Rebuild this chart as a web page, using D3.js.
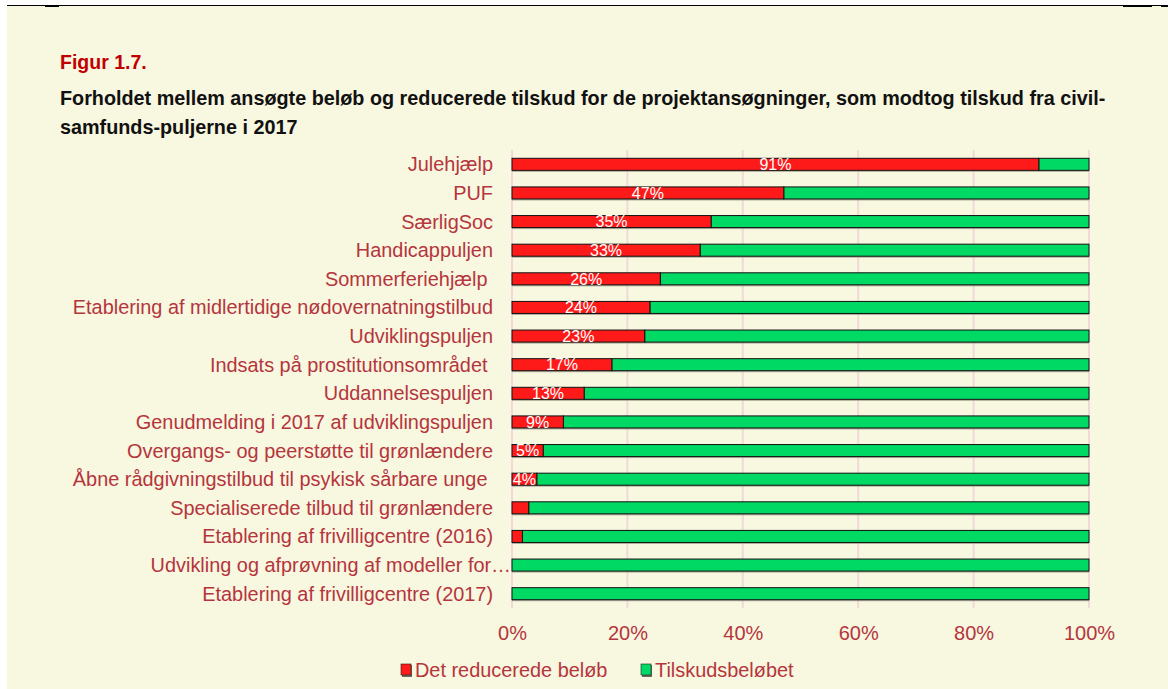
<!DOCTYPE html>
<html><head><meta charset="utf-8">
<script src="https://cdn.jsdelivr.net/npm/d3@7"></script>
<style>
html,body{margin:0;padding:0;background:#fff;}
svg{display:block;font-family:"Liberation Sans",Arial,Helvetica,sans-serif;}
</style></head>
<body>
<svg id="chart" width="1168" height="689"></svg>
<script>
const categories = [
  "Julehjælp","PUF","SærligSoc","Handicappuljen","Sommerferiehjælp ",
  "Etablering af midlertidige nødovernatningstilbud","Udviklingspuljen",
  "Indsats på prostitutionsområdet ","Uddannelsespuljen",
  "Genudmelding i 2017 af udviklingspuljen","Overgangs- og peerstøtte til grønlændere",
  "Åbne rådgivningstilbud til psykisk sårbare unge ","Specialiserede tilbud til grønlændere",
  "Etablering af frivilligcentre (2016)","Udvikling og afprøvning af modeller for…",
  "Etablering af frivilligcentre (2017)"
];
const reduced = [0.913,0.471,0.345,0.326,0.257,0.239,0.230,0.173,0.125,0.089,0.054,0.043,0.029,0.018,0,0];
const reducedLabels = ["91%","47%","35%","33%","26%","24%","23%","17%","13%","9%","5%","4%","","","",""];
const tickValues = [0,0.2,0.4,0.6,0.8,1];
const tickLabels = ["0%","20%","40%","60%","80%","100%"];
const seriesNames = ["Det reducerede beløb","Tilskudsbeløbet"];
const titleLabel = "Figur 1.7.";
const subtitleLines = [
  "Forholdet mellem ansøgte beløb og reducerede tilskud for de projektansøgninger, som modtog tilskud fra civil-",
  "samfunds-puljerne i 2017"
];

const RED = "#ff1a1a", GREEN = "#00d964", TXT = "#b5353d";
const svg = d3.select("#chart");

// background + top rule
svg.append("rect").attr("x",7).attr("y",6).attr("width",1161).attr("height",683).attr("fill","#f8f7e0");
svg.append("line").attr("x1",7).attr("x2",1168).attr("y1",5.5).attr("y2",5.5).attr("stroke","#000").attr("stroke-width",1);
svg.append("rect").attr("x",45).attr("y",5).attr("width",14).attr("height",2).attr("fill","#000");
svg.append("rect").attr("x",1123).attr("y",5).attr("width",29).attr("height",2).attr("fill","#000");
svg.append("rect").attr("x",1161).attr("y",5).attr("width",7).attr("height",2).attr("fill","#000");

// titles
svg.append("text").attr("x",60).attr("y",69).attr("fill","#c00000")
  .attr("font-weight","bold").attr("font-size",19.5).text(titleLabel);
svg.selectAll("text.sub").data(subtitleLines).join("text").attr("class","sub")
  .attr("x",60).attr("y",(d,i)=>105+i*29).attr("fill","#111")
  .attr("font-weight","bold").attr("font-size",19.8).text(d=>d);

const x = d3.scaleLinear().domain([0,1]).range([512,1089]);
const y = d3.scaleBand().domain(categories).range([150,608]).paddingInner(0.58).paddingOuter(0.29);

// gridlines
svg.append("g").selectAll("line").data(tickValues).join("line")
  .attr("x1",d=>x(d)).attr("x2",d=>x(d)).attr("y1",150).attr("y2",608)
  .attr("stroke","#f2d9d9").attr("stroke-width",2);

// x axis labels
const xAxis = d3.axisBottom(x).tickValues(tickValues).tickFormat((d,i)=>tickLabels[i]).tickSize(0).tickPadding(0);
const gx = svg.append("g").attr("transform","translate(0,626)").call(xAxis);
gx.select(".domain").remove();
gx.selectAll("text").attr("fill",TXT).attr("font-size",20).attr("font-family","Liberation Sans, Arial, sans-serif");

// y axis labels
const yAxis = d3.axisLeft(y).tickSize(0).tickPadding(0);
const gy = svg.append("g").attr("transform","translate(493,0)").call(yAxis);
gy.select(".domain").remove();
gy.selectAll("text").attr("fill",TXT).attr("font-size",19.9).attr("dy","0.35em")
  .attr("font-family","Liberation Sans, Arial, sans-serif")
  .style("white-space","pre")
  .attr("dx",d=>d.endsWith("…")?18:0);

const rows = categories.map((c,i)=>({c, r:reduced[i], l:reducedLabels[i]}));
const bh = y.bandwidth();

// shadows
svg.append("g").selectAll("rect").data(rows).join("rect")
  .attr("x",x(0)).attr("y",d=>y(d.c)+1.5).attr("width",x(1)-x(0)).attr("height",bh)
  .attr("fill","#8a8a7a").attr("opacity",0.7);

// green full bar
svg.append("g").selectAll("rect").data(rows).join("rect")
  .attr("x",d=>x(d.r)).attr("y",d=>y(d.c)).attr("width",d=>x(1)-x(d.r)).attr("height",bh)
  .attr("fill",GREEN).attr("stroke","#111").attr("stroke-width",1);
// red
svg.append("g").selectAll("rect").data(rows.filter(d=>d.r>0)).join("rect")
  .attr("x",x(0)).attr("y",d=>y(d.c)).attr("width",d=>x(d.r)-x(0)).attr("height",bh)
  .attr("fill",RED).attr("stroke","#111").attr("stroke-width",1);

// value labels
svg.append("g").selectAll("text").data(rows.filter(d=>d.l)).join("text")
  .attr("x",d=>(x(0)+x(d.r))/2).attr("y",d=>y(d.c)+bh/2).attr("dy","0.36em")
  .attr("text-anchor","middle").attr("fill","#fff").attr("font-size",16).text(d=>d.l);

// legend
const leg = [{n:seriesNames[0],c:RED,x:401},{n:seriesNames[1],c:GREEN,x:641}];
const lg = svg.append("g").selectAll("g").data(leg).join("g");
lg.append("rect").attr("x",d=>d.x+1).attr("y",665).attr("width",10).attr("height",12).attr("fill","#6a6a5a");
lg.append("rect").attr("x",d=>d.x).attr("y",664).attr("width",10).attr("height",11).attr("fill",d=>d.c).attr("stroke","#222").attr("stroke-width",0.6);
lg.append("text").attr("x",d=>d.x+14).attr("y",677).attr("fill",TXT).attr("font-size",19.9).text(d=>d.n);
</script>
</body></html>
